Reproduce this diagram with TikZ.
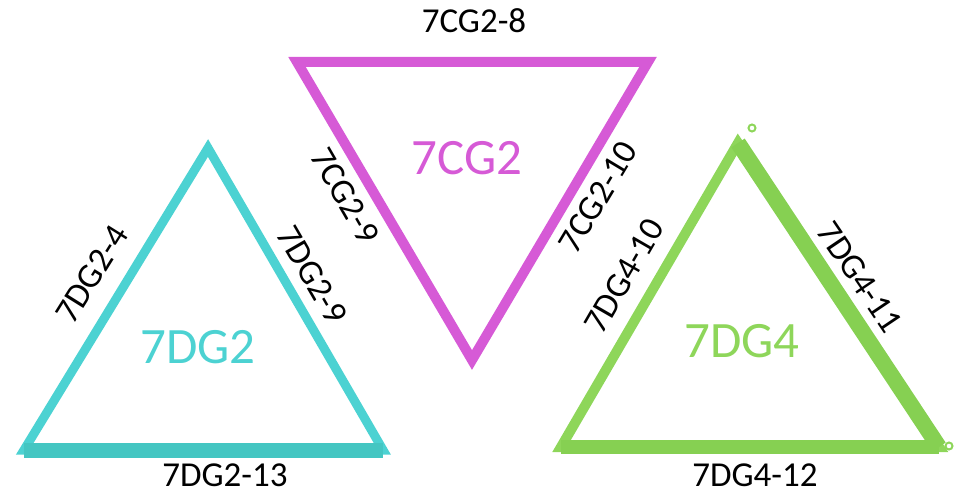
\documentclass[tikz,border=0pt]{standalone}
\usepackage{fontspec}
\setmainfont{Carlito}
\definecolor{cyanfrm}{HTML}{4CD2D2}
\definecolor{cyandk}{HTML}{44C6C2}
\definecolor{magfrm}{HTML}{D65AD6}
\definecolor{grnfrm}{HTML}{8ED65A}
\definecolor{grndk}{HTML}{86D052}
\begin{document}
\begin{tikzpicture}[
    x=1pt, y=-1pt,
    trframe/.style={line width=9pt, line join=miter},
    sidetag/.style={inner sep=0pt, font=\fontsize{35}{40}\selectfont},
    bigtag/.style={inner sep=0pt, font=\fontsize{51}{56}\selectfont},
    tab/.style={draw=grnfrm, line width=2pt, circle, minimum size=7pt, inner sep=0pt}
]
    \useasboundingbox (0,0) rectangle (961,494);

    % 7DG2 (cyan)
    \coordinate (dgTop) at (208,148);
    \coordinate (dgL) at (24,450);
    \coordinate (dgR) at (383,450);
    \draw[trframe, cyanfrm] (dgTop) -- (dgL) -- (dgR) -- cycle;
    \draw[cyandk, line width=15pt] (dgL) -- (dgR);

    % 7CG2 (magenta)
    \coordinate (cgL) at (297,62);
    \coordinate (cgR) at (648,62);
    \coordinate (cgBot) at (472,360);
    \draw[trframe, magfrm, line width=10pt] (cgL) -- (cgR) -- (cgBot) -- cycle;

    % 7DG4 (green)
    \coordinate (gTop) at (738,143);
    \coordinate (gL) at (561,447);
    \coordinate (gR) at (939,447);
    \draw[trframe, grnfrm, line width=10pt] (gTop) -- (gL) -- (gR) -- cycle;
    \draw[grndk, line width=16pt] (gTop) -- (gR);
    \draw[grndk, line width=14pt] (gL) -- (gR);
    \node[tab] (tabTop) at (752,128) {};
    \node[tab] (tabR) at (949,446) {};

    % big labels
    \node[bigtag, text=cyanfrm] (n7DG2) at (198,347) {7DG2};
    \node[bigtag, text=magfrm] (n7CG2) at (467,158) {7CG2};
    \node[bigtag, text=grnfrm] (n7DG4) at (742,341) {7DG4};

    % edge labels
    \node[sidetag] (dg4) at (92,274) [rotate=58] {7DG2-4};
    \node[sidetag] (dg9) at (312,275) [rotate=-60] {7DG2-9};
    \node[sidetag] (dg13) at (225,475) {7DG2-13};
    \node[sidetag] (cg8) at (474,21) {7CG2-8};
    \node[sidetag] (cg9) at (345,196) [rotate=-60] {7CG2-9};
    \node[sidetag] (cg10) at (598,197) [rotate=59] {7CG2-10};
    \node[sidetag] (g10) at (624,276) [rotate=60] {7DG4-10};
    \node[sidetag] (g11) at (860,277) [rotate=-56] {7DG4-11};
    \node[sidetag] (g12) at (755,475) {7DG4-12};
\end{tikzpicture}
\end{document}
